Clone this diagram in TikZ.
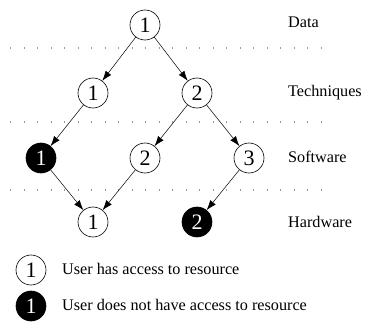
\documentclass[tikz,border=0pt]{standalone}
\usepackage{fontspec}
\setmainfont{Liberation Serif}
\usetikzlibrary{arrows.meta}
\tikzset{
  res/.style={circle, draw, line width=0.6pt, minimum size=30pt, inner sep=0pt,
              font=\fontsize{22}{22}\selectfont},
  granted/.style={res, fill=white, text=black},
  denied/.style={res, fill=black, text=white},
  level/.style={anchor=west, inner sep=0pt, font=\fontsize{16.2}{17}\selectfont},
  note/.style={anchor=west, inner sep=0pt, font=\fontsize{16.2}{17}\selectfont},
  link/.style={line width=0.5pt, -{Latex[length=10pt,width=7pt]}},
  divider/.style={gray!80, line width=1.2pt, dash pattern=on 1.2pt off 12.3pt}
}
\begin{document}
\begin{tikzpicture}[x=1pt, y=-1pt]
\useasboundingbox (0,0) rectangle (365,324);

% level separators
\draw[divider] (10,48) -- (330,48);
\draw[divider] (10,122) -- (330,122);
\draw[divider] (10,190) -- (330,190);

% level names
\node[level] (lData) at (288,22) {Data};
\node[level] (lTech) at (288,93) {Techniques};
\node[level] (lSoft) at (288,157) {Software};
\node[level] (lHard) at (288,222) {Hardware};

% resource nodes
\node[granted] (d1) at (145,25) {1};
\node[granted] (t1) at (93,93) {1};
\node[granted] (t2) at (197,93) {2};
\node[denied]  (s1) at (41,158) {1};
\node[granted] (s2) at (145,158) {2};
\node[granted] (s3) at (249,158) {3};
\node[granted] (h1) at (93,222) {1};
\node[denied]  (h2) at (197,222) {2};

% dependencies
\draw[link] (d1) -- (t1);
\draw[link] (d1) -- (t2);
\draw[link] (t1) -- (s1);
\draw[link] (t2) -- (s2);
\draw[link] (t2) -- (s3);
\draw[link] (s1) -- (h1);
\draw[link] (s2) -- (h1);
\draw[link] (s3) -- (h2);

% legend
\node[granted] (k1) at (31,270) {1};
\node[note] (k1t) at (62,269) {User has access to resource};
\node[denied] (k2) at (31,306) {1};
\node[note] (k2t) at (62,305) {User does not have access to resource};
\end{tikzpicture}
\end{document}
